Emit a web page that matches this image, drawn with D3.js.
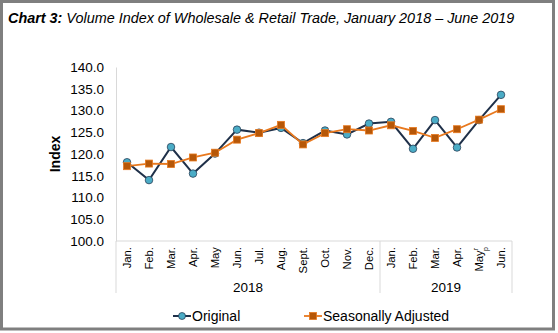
<!DOCTYPE html>
<html><head><meta charset="utf-8">
<script src="https://cdn.jsdelivr.net/npm/d3@7"></script>
<style>
html,body{margin:0;padding:0;background:#fff;}
text{font-family:"Liberation Sans",Arial,sans-serif;}
</style></head>
<body>
<svg id="c" width="558" height="333"></svg>
<script>
const months = ["Jan.","Feb.","Mar.","Apr.","May","Jun.","Jul.","Aug.","Sept.","Oct.","Nov.","Dec.","Jan.","Feb.","Mar.","Apr.","May","Jun."];
const years = ["2018","2019"];
const yearOf = [0,0,0,0,0,0,0,0,0,0,0,0,1,1,1,1,1,1];
const original = [118.1,114.0,121.6,115.5,120.1,125.6,124.9,126.0,122.5,125.4,124.5,127.0,127.4,121.2,127.8,121.5,127.8,133.6];
const seasonal = [117.2,117.8,117.7,119.2,120.3,123.3,124.8,126.7,122.2,124.8,125.7,125.4,126.6,125.3,123.7,125.7,127.9,130.3];
const yTicks = [100,105,110,115,120,125,130,135,140];
const seriesNames = ["Original","Seasonally Adjusted"];

const svg = d3.select("#c");
// frame
svg.append("rect").attr("x",1.5).attr("y",1.5).attr("width",552).attr("height",327.5)
  .attr("fill","#fff").attr("stroke","#7f7f7f").attr("stroke-width",3);

// title
const t = svg.append("text").attr("x",8).attr("y",23).attr("font-size",14.4).attr("font-style","italic").attr("fill","#000");
t.append("tspan").attr("font-weight","bold").text("Chart 3:");
t.append("tspan").text(" Volume Index of Wholesale & Retail Trade, January 2018 \u2013 June 2019");

const L = 116, R = 512, T = 67, B = 241;
const x = d3.scaleBand().domain(d3.range(months.length)).range([L,R]);
const y = d3.scaleLinear().domain([100,140]).range([B,T]);
const cx = i => x(i) + x.bandwidth()/2;

// y axis
const ya = svg.append("g").attr("transform",`translate(${L},0)`)
  .call(d3.axisLeft(y).tickValues(yTicks).tickFormat(d3.format(".1f")).tickSize(0).tickPadding(12));
ya.select(".domain").attr("stroke","#d9d9d9");
ya.selectAll("text").attr("font-size",13.5).attr("fill","#000").attr("font-family","Liberation Sans, Arial, sans-serif");

// x axis line
svg.append("line").attr("x1",L).attr("x2",R).attr("y1",B).attr("y2",B).attr("stroke","#d9d9d9");
// group separators
const seps = [L, x(12), R];
seps.forEach(s=>svg.append("line").attr("x1",s).attr("x2",s).attr("y1",B).attr("y2",293).attr("stroke","#d9d9d9"));

// month labels
months.forEach((m,i)=>{
  const tx = svg.append("text").attr("transform",`translate(${cx(i)+4},${B+6}) rotate(-90)`)
    .attr("text-anchor","end").attr("font-size",11.3).attr("fill","#000");
  tx.append("tspan").text(m);
  if(i===16){
    tx.append("tspan").attr("font-size",7).attr("dy",-5).text("r");
    tx.append("tspan").attr("font-size",7).attr("dx",-3).attr("dy",10).text("p");
  }
});
// year labels
years.forEach((yr,k)=>{
  const idx = d3.range(months.length).filter(i=>yearOf[i]===k);
  const a = x(idx[0]), b = x(idx[idx.length-1]) + x.bandwidth();
  svg.append("text").attr("x",(a+b)/2).attr("y",292).attr("text-anchor","middle")
    .attr("font-size",13.5).attr("fill","#000").text(yr);
});

// y label
svg.append("text").attr("transform",`translate(60,${(T+B)/2}) rotate(-90)`).attr("text-anchor","middle")
  .attr("font-size",14).attr("font-weight","bold").attr("fill","#000").text("Index");

const line = d3.line().x((d,i)=>cx(i)).y(d=>y(d));
const navy = "#1f3049", teal = "#4bacc6", orange = "#e8791f", brown = "#b65708";

svg.append("path").datum(original).attr("d",line).attr("fill","none").attr("stroke",navy).attr("stroke-width",2);
svg.selectAll(".o").data(original).enter().append("circle").attr("cx",(d,i)=>cx(i)).attr("cy",d=>y(d)).attr("r",3.8)
  .attr("fill",teal).attr("stroke",navy).attr("stroke-width",0.7);

svg.append("path").datum(seasonal).attr("d",line).attr("fill","none").attr("stroke",orange).attr("stroke-width",1.8);
svg.selectAll(".s").data(seasonal).enter().append("rect").attr("x",(d,i)=>cx(i)-3.5).attr("y",d=>y(d)-3.5)
  .attr("width",7).attr("height",7).attr("fill",brown).attr("stroke",orange).attr("stroke-width",0.8);

// legend
const lg = [{x:173, c:navy}, {x:304, c:orange}];
lg.forEach((l,k)=>{
  svg.append("line").attr("x1",l.x).attr("x2",l.x+18).attr("y1",316).attr("y2",316).attr("stroke",l.c).attr("stroke-width",k?1.8:2);
  if(k===0) svg.append("circle").attr("cx",l.x+9).attr("cy",316).attr("r",3.5).attr("fill",teal).attr("stroke",navy).attr("stroke-width",0.7);
  else svg.append("rect").attr("x",l.x+5.5).attr("y",312.5).attr("width",7).attr("height",7).attr("fill",brown).attr("stroke",orange).attr("stroke-width",0.8);
  svg.append("text").attr("x",l.x+19).attr("y",321).attr("font-size",14).attr("fill","#000").text(seriesNames[k]);
});
</script>
</body></html>
